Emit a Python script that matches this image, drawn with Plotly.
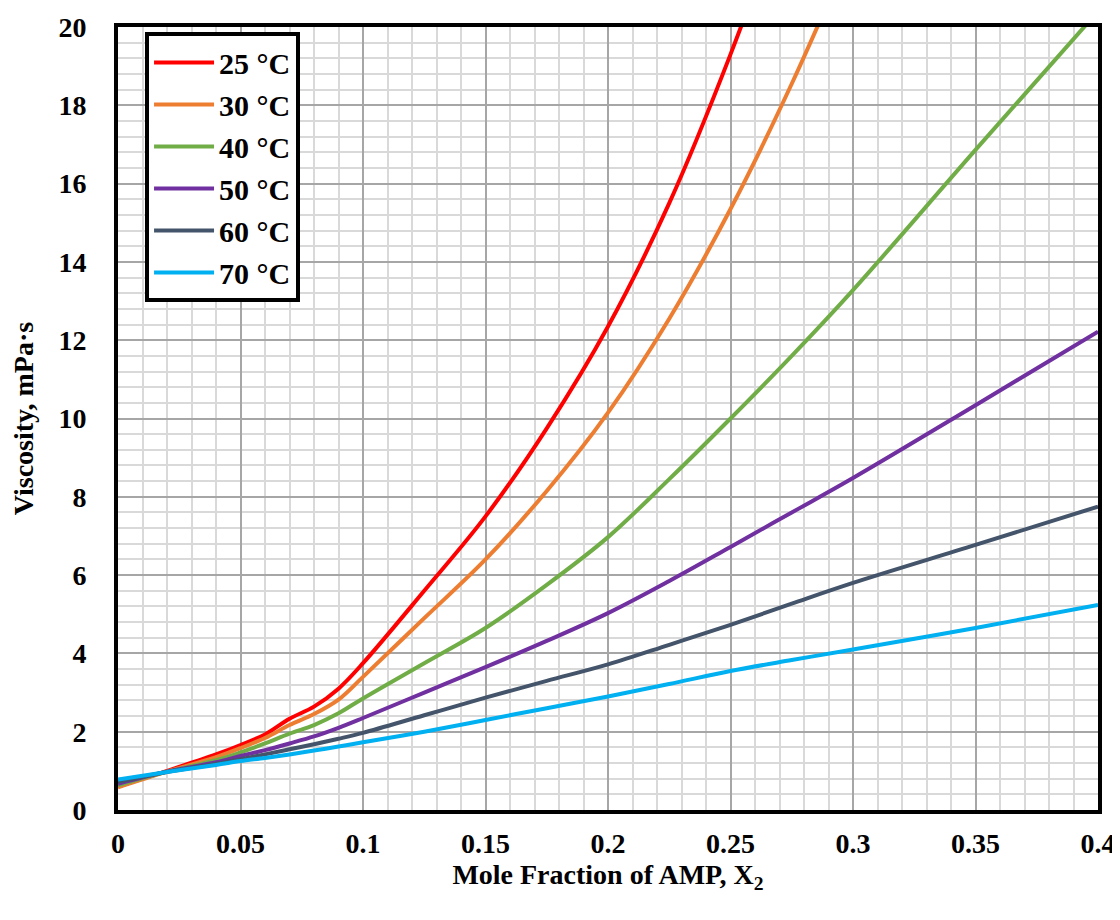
import plotly.graph_objects as go

x_vals = [0, 0.02, 0.04, 0.05, 0.06, 0.07, 0.08, 0.09, 0.1, 0.125, 0.15, 0.175,
          0.2, 0.225, 0.25, 0.275, 0.3, 0.35, 0.4]

visc_25 = [0.60, 1.00, 1.42, 1.66, 1.93, 2.33, 2.64, 3.10, 3.75, 5.60, 7.50, 9.75,
           12.35, 15.50, 19.30, 23.60]
visc_30 = [0.58, 0.98, 1.35, 1.58, 1.84, 2.17, 2.45, 2.82, 3.40, 4.90, 6.40, 8.15,
           10.15, 12.55, 15.35, 18.55, 22.10]
visc_40 = [0.63, 0.98, 1.27, 1.47, 1.70, 1.95, 2.17, 2.47, 2.85, 3.75, 4.65, 5.75,
           6.97, 8.45, 10.00, 11.60, 13.28, 16.86, 20.40]
visc_50 = [0.67, 0.98, 1.22, 1.38, 1.53, 1.70, 1.88, 2.10, 2.35, 3.00, 3.65, 4.32,
           5.03, 5.85, 6.72, 7.60, 8.48, 10.34, 12.22]
visc_60 = [0.72, 0.97, 1.18, 1.30, 1.42, 1.55, 1.68, 1.82, 1.97, 2.42, 2.87, 3.30,
           3.72, 4.22, 4.73, 5.27, 5.80, 6.77, 7.75]
visc_70 = [0.78, 0.97, 1.15, 1.25, 1.33, 1.42, 1.52, 1.62, 1.73, 2.00, 2.30, 2.60,
           2.90, 3.22, 3.55, 3.83, 4.10, 4.65, 5.24]

series_names = ["25 °C", "30 °C", "40 °C", "50 °C", "60 °C", "70 °C"]
series_vals = [visc_25, visc_30, visc_40, visc_50, visc_60, visc_70]
colors = ["#FF0000", "#ED7D31", "#70AD47", "#7030A0", "#44546A", "#00B0F0"]

x_ticks = [0, 0.05, 0.1, 0.15, 0.2, 0.25, 0.3, 0.35, 0.4]
y_ticks = [0, 2, 4, 6, 8, 10, 12, 14, 16, 18, 20]

FONT = "Liberation Serif"

fig = go.Figure()
for name, vals, col in zip(series_names, series_vals, colors):
    fig.add_trace(go.Scatter(
        x=x_vals[:len(vals)], y=vals, mode="lines", name=name,
        legendgroup=name,
        line=dict(color=col, width=4, shape="spline", smoothing=1.0),
    ))

axis_common = dict(
    showline=True, linecolor="black", linewidth=4, mirror=True,
    ticks="", showgrid=True, gridcolor="#A6A6A6", gridwidth=1.5,
    zeroline=False, automargin=False, ticklabeloverflow="allow",
    tickfont=dict(family=FONT, size=28, color="black", weight="bold"),
)

# page body has an 8px margin, so the figure is sized/offset to compensate
fig.update_layout(
    width=1112, height=912,
    margin=dict(l=110, r=22, t=19, b=110),
    paper_bgcolor="white", plot_bgcolor="white",
    font=dict(family=FONT, color="black"),
    xaxis=dict(
        range=[0, 0.4], tickmode="array", tickvals=x_ticks,
        ticktext=[f"{v:g}" for v in x_ticks],
        minor=dict(dtick=0.01, showgrid=True, gridcolor="#D9D9D9", gridwidth=2, ticks=""),
        title=dict(text="Mole Fraction of AMP, X<sub>2</sub>",
                   font=dict(family=FONT, size=28, color="black", weight="bold"),
                   standoff=8),
        ticklabelstandoff=5,
        **axis_common,
    ),
    yaxis=dict(
        range=[0, 20], tickmode="array", tickvals=y_ticks,
        minor=dict(dtick=0.4, showgrid=True, gridcolor="#D9D9D9", gridwidth=2, ticks=""),
        title=dict(text="Viscosity, mPa·s",
                   font=dict(family=FONT, size=28, color="black", weight="bold"),
                   standoff=22),
        ticklabelstandoff=22,
        **axis_common,
    ),
    legend=dict(
        x=0.0276, y=0.993, xanchor="left", yanchor="top",
        bgcolor="white", bordercolor="black", borderwidth=4,
        font=dict(family=FONT, size=30, color="black", weight="bold"),
        tracegroupgap=0, itemwidth=60,
    ),
    showlegend=True,
)

fig.write_html("out.html")
